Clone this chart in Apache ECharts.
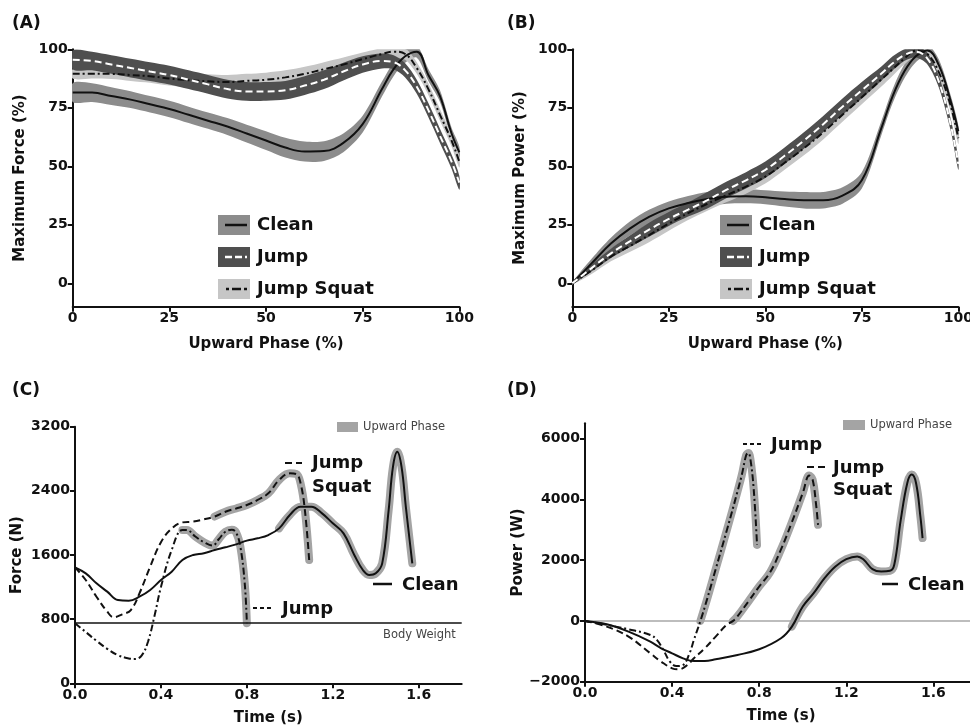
<!DOCTYPE html>
<html><head><meta charset="utf-8">
<script src="https://cdn.jsdelivr.net/npm/echarts@6/dist/echarts.min.js"></script>
<style>html,body{margin:0;padding:0;background:#fff}#c{width:970px;height:725px}</style>
</head><body><div id="c"></div>
<script>
// ---------- Panel A / B : normalised curves vs upward phase ----------
const phaseX = [0,5,10,15,20,25,30,35,40,45,50,55,60,65,70,75,80,83,86,89,92,95,98,100];
const phaseTicks = [0,25,50,75,100];
const pctTicks = [0,25,50,75,100];

const forceClean   = [81.5,81.5,80,78.5,76.5,74.5,72,69.5,67,64,61,58,56.3,56.5,60,68,83,91.5,97,99,89,80,64,56];
const forceCleanHW = [4,4,3.8,3.6,3.5,3.5,3.5,3.5,3.6,3.8,4,4.2,4.3,4.2,4,3.6,3.2,3,2.8,2.6,2.6,2.5,2.5,2.5];
const forceJump    = [95.5,95,93.5,92,90.5,89,87,85,83,82,82,82.5,84.5,87,90.5,93.5,95,94.5,91,84,74,63,52,43];
const forceJumpHW  = [4,4,4,4,4,4,4,4,4,4,4,4,4,4,3.8,3.5,3.2,3,3,3,3,3,3,3];
const forceSquat   = [89.5,89.5,89.5,89,88.5,87.5,86.8,86.3,86,86.5,87,88,89.5,91.5,93.5,95.8,98,99,98,92,83,72,61,52];
const forceSquatHW = [2,2,2.2,2.5,2.8,3,3,3,3,3,3,3,3,3,3,2.8,2.6,2.5,2.5,2.5,2.5,2.5,2.5,2.5];

const powerClean   = [0,8.5,17,23.5,28.5,32,34.3,36,37,37.2,36.8,36,35.5,35.5,37.5,44,66,80,90.5,97,99.5,93,78,65];
const powerCleanHW = [0.5,2,2.5,3,3,3,3,3,3,3,3,3.2,3.5,3.5,3.5,3.5,3,3,3,2.5,2.5,2.5,2.5,2.5];
const powerJump    = [0,6.5,12.8,18,23,27.5,31.5,35.5,40,44,48.5,54.5,61,68,75.5,82.5,89.5,94,97.5,99,96,86,68,51];
const powerJumpHW  = [0.5,1.5,2,2.5,3,3,3,3.5,3.5,3.5,3.5,3.5,3.5,3.5,3.5,3.5,3,3,2.5,2.5,2.5,2.5,2.5,2.5];
const powerSquat   = [0,5.5,11.4,16,20.7,25.5,30,34,37.7,41.3,45.6,51.5,57.7,64.5,72,79.5,87,91.5,96,99.4,98,90,76,62];
const powerSquatHW = [0.5,1.5,2,2.5,3,3,3,3,3,3,3,3,3,3,3,3,3,2.8,2.5,2.5,2.5,2.5,2.5,2.5];

// ---------- Panel C : force (N) vs time ----------
const timeTicks = [0,0.4,0.8,1.2,1.6];
const timeCleanC  = [0,0.05,0.1,0.15,0.2,0.25,0.3,0.35,0.4,0.45,0.5,0.55,0.6,0.65,0.7,0.75,0.8,0.85,0.9,0.95,1.0,1.05,1.1,1.15,1.2,1.25,1.3,1.34,1.37,1.4,1.43,1.46,1.48,1.5,1.52,1.54,1.57];
const forceCleanN = [1446,1371,1247,1143,1039,1031,1080,1164,1288,1392,1538,1600,1621,1662,1696,1733,1779,1808,1849,1932,2099,2203,2203,2119,1995,1870,1600,1413,1351,1371,1496,2161,2700,2888,2700,2200,1496];
const timeSquatC  = [0,0.05,0.1,0.15,0.18,0.22,0.26,0.3,0.35,0.4,0.45,0.5,0.55,0.6,0.65,0.7,0.75,0.8,0.85,0.9,0.95,1.0,1.03,1.05,1.07,1.09];
const forceSquatN = [1446,1288,1080,894,823,860,914,1122,1455,1760,1930,2007,2016,2044,2080,2140,2180,2223,2286,2369,2535,2618,2610,2494,2161,1538];
const timeJumpC   = [0,0.05,0.1,0.15,0.2,0.25,0.28,0.31,0.34,0.37,0.4,0.45,0.5,0.52,0.56,0.6,0.64,0.67,0.7,0.73,0.75,0.77,0.79,0.8];
const forceJumpN  = [748,640,530,430,350,310,303,345,520,840,1200,1662,1912,1912,1830,1760,1717,1800,1890,1915,1880,1700,1250,750];
const bodyWeight = 750;
const upStartC = {clean:0.95, squat:0.65, jump:0.5};

// ---------- Panel D : power (W) vs time ----------
const timeCleanD  = [0,0.1,0.2,0.3,0.35,0.4,0.45,0.5,0.55,0.6,0.7,0.8,0.9,0.95,1.0,1.05,1.1,1.15,1.2,1.25,1.28,1.32,1.36,1.4,1.42,1.45,1.48,1.5,1.52,1.54,1.55];
const powerCleanW = [0,-110,-352,-681,-901,-1066,-1231,-1319,-1319,-1264,-1121,-934,-571,-187,472,912,1407,1791,2033,2121,2011,1703,1626,1648,1846,3330,4538,4813,4538,3440,2725];
const timeSquatD  = [0,0.1,0.2,0.3,0.35,0.4,0.43,0.47,0.5,0.55,0.6,0.65,0.68,0.7,0.75,0.8,0.85,0.9,0.95,1.0,1.03,1.045,1.06,1.07];
const powerSquatW = [0,-187,-516,-1066,-1341,-1560,-1593,-1451,-1231,-901,-516,-132,0,150,637,1132,1600,2350,3250,4209,4780,4650,3900,3160];
const timeJumpD   = [0,0.1,0.2,0.3,0.33,0.36,0.39,0.42,0.45,0.48,0.5,0.53,0.56,0.6,0.65,0.7,0.72,0.74,0.75,0.76,0.775,0.79];
const powerJumpW  = [0,-132,-275,-462,-626,-956,-1341,-1484,-1451,-1066,-626,0,700,1700,2950,4250,4800,5450,5520,5300,4300,2500];
const upStartD = {clean:0.95, squat:0.68, jump:0.53};

// ---------- styling ----------
const FONT = '"DejaVu Sans", sans-serif';
const INK = '#111';
const C_CLEAN = '#8c8c8c', C_JUMP = '#4f4f4f', C_SQUAT = '#c6c6c6', C_UP = '#a4a4a4';
const DASH = [7,4], DASHDOT = [7,3,2,3];

function axis(gi, opt) {
  return Object.assign({
    gridIndex: gi, type: 'value',
    axisLine: {show: true, onZero: false, lineStyle: {color: INK, width: 2}},
    splitLine: {show: false},
    nameLocation: 'middle',
    nameTextStyle: {color: INK, fontFamily: FONT, fontWeight: 'bold', fontSize: 15}
  }, opt);
}
const plain = v => (v < 0 ? '\u2212' : '') + String(Math.abs(v));
function ticks(vals, fmt) {
  return {
    axisTick: {show: true, length: 5, lineStyle: {color: INK, width: 2}, customValues: vals},
    axisLabel: {color: INK, fontFamily: FONT, fontWeight: 'bold', fontSize: 14, margin: 5,
      customValues: vals, formatter: fmt || plain}
  };
}
function band(gi, xs, c, hw, color) {
  return {
    type: 'custom', xAxisIndex: gi, yAxisIndex: gi, silent: true, clip: true, z: 1,
    data: xs.map((x, i) => [x, c[i] - hw[i], c[i] + hw[i]]),
    encode: {x: 0, y: [1, 2]},
    renderItem(params, api) {
      if (params.dataIndex !== 0) return null;
      const up = xs.map((x, i) => api.coord([x, c[i] + hw[i]]));
      const lo = xs.map((x, i) => api.coord([x, c[i] - hw[i]])).reverse();
      return {type: 'polygon', shape: {points: up.concat(lo), smooth: 0.3}, style: {fill: color}};
    }
  };
}
function curve(gi, xs, ys, color, width, type, smooth) {
  return {
    type: 'line', xAxisIndex: gi, yAxisIndex: gi, symbol: 'none', silent: true, z: 3,
    smooth: smooth,
    data: xs.map((x, i) => [x, ys[i]]),
    lineStyle: {color: color, width: width, type: type}
  };
}
function upward(gi, xs, ys, start) {
  const d = [];
  xs.forEach((x, i) => { if (x >= start - 1e-9) d.push([x, ys[i]]); });
  return {
    type: 'line', xAxisIndex: gi, yAxisIndex: gi, symbol: 'none', silent: true, z: 2,
    smooth: 0.4, data: d,
    lineStyle: {color: C_UP, width: 8, cap: 'round', join: 'round'}
  };
}

const t1 = v => v.toFixed(1);

const option = {
  animation: false,
  backgroundColor: '#fff',
  grid: [
    {left: 72.7, right: 510.7, top: 49.3, bottom: 418.3, outerBoundsMode: 'none'},
    {left: 572.3, right: 11.7, top: 49.3, bottom: 418.3, outerBoundsMode: 'none'},
    {left: 75, right: 508.3, top: 426.7, bottom: 41.7, outerBoundsMode: 'none'},
    {left: 585, right: -7, top: 423.3, bottom: 43.3, outerBoundsMode: 'none'}
  ],
  xAxis: [
    axis(0, Object.assign({min: 0, max: 100, name: 'Upward Phase (%)', nameGap: 30}, ticks(phaseTicks))),
    axis(1, Object.assign({min: 0, max: 100, name: 'Upward Phase (%)', nameGap: 30}, ticks(phaseTicks))),
    axis(2, Object.assign({min: 0, max: 1.8, name: 'Time (s)', nameGap: 27}, ticks(timeTicks, t1))),
    axis(3, Object.assign({min: 0, max: 1.8, name: 'Time (s)', nameGap: 27}, ticks(timeTicks, t1)))
  ],
  yAxis: [
    axis(0, Object.assign({min: -10, max: 100, name: 'Maximum Force (%)', nameGap: 45}, ticks(pctTicks))),
    axis(1, Object.assign({min: -10, max: 100, name: 'Maximum Power (%)', nameGap: 45}, ticks(pctTicks))),
    axis(2, Object.assign({min: 0, max: 3200, interval: 800, name: 'Force (N)', nameGap: 50}, ticks([0,800,1600,2400,3200]))),
    axis(3, Object.assign({min: -2000, max: 6500, interval: 2000, name: 'Power (W)', nameGap: 52}, ticks([-2000,0,2000,4000,6000])))
  ],
  series: [
    // A
    band(0, phaseX, forceClean, forceCleanHW, C_CLEAN),
    band(0, phaseX, forceSquat, forceSquatHW, C_SQUAT),
    band(0, phaseX, forceJump, forceJumpHW, C_JUMP),
    curve(0, phaseX, forceClean, INK, 2, 'solid', 0.4),
    curve(0, phaseX, forceSquat, INK, 2, DASHDOT, 0.4),
    curve(0, phaseX, forceJump, '#fff', 2, DASH, 0.4),
    // B
    band(1, phaseX, powerClean, powerCleanHW, C_CLEAN),
    band(1, phaseX, powerSquat, powerSquatHW, C_SQUAT),
    band(1, phaseX, powerJump, powerJumpHW, C_JUMP),
    curve(1, phaseX, powerClean, INK, 2, 'solid', 0.4),
    curve(1, phaseX, powerSquat, INK, 2, DASHDOT, 0.4),
    curve(1, phaseX, powerJump, '#fff', 2, DASH, 0.4),
    // C
    Object.assign(upward(2, timeCleanC, forceCleanN, upStartC.clean), {
      markLine: {silent: true, symbol: 'none', label: {show: false},
        lineStyle: {color: INK, width: 1.5, type: 'solid'}, data: [{yAxis: bodyWeight}]}
    }),
    upward(2, timeSquatC, forceSquatN, upStartC.squat),
    upward(2, timeJumpC, forceJumpN, upStartC.jump),
    curve(2, timeCleanC, forceCleanN, INK, 2, 'solid', 0.4),
    curve(2, timeSquatC, forceSquatN, INK, 2, DASH, 0.4),
    curve(2, timeJumpC, forceJumpN, INK, 2, DASHDOT, 0.4),
    // D
    Object.assign(upward(3, timeCleanD, powerCleanW, upStartD.clean), {
      markLine: {silent: true, symbol: 'none', label: {show: false}, z: 1,
        lineStyle: {color: '#bdbdbd', width: 2, type: 'solid'}, data: [{yAxis: 0}]}
    }),
    upward(3, timeSquatD, powerSquatW, upStartD.squat),
    upward(3, timeJumpD, powerJumpW, upStartD.jump),
    curve(3, timeCleanD, powerCleanW, INK, 2, 'solid', 0.4),
    curve(3, timeSquatD, powerSquatW, INK, 2, DASH, 0.4),
    curve(3, timeJumpD, powerJumpW, INK, 2, DASHDOT, 0.4)
  ],
  graphic: []
};

// ---------- text / legend graphics ----------
const G = option.graphic;
function txt(s, x, y, size, weight, fill) {
  G.push({type: 'text', silent: true, z: 10, style: {text: s, x: x, y: y, fill: fill || INK,
    font: (weight || 'bold') + ' ' + size + 'px ' + FONT, verticalAlign: 'middle'}});
}
function seg(x1, y1, x2, y2, color, w, dash) {
  G.push({type: 'line', silent: true, z: 10, shape: {x1: x1, y1: y1, x2: x2, y2: y2},
    style: {stroke: color, lineWidth: w, lineDash: dash || null}});
}
function box(x, y, w, h, fill) {
  G.push({type: 'rect', silent: true, z: 9, shape: {x: x, y: y, width: w, height: h}, style: {fill: fill}});
}
// panel letters
txt('(A)', 12, 24, 17); txt('(B)', 507, 24, 17); txt('(C)', 12, 391, 17); txt('(D)', 507, 391, 17);
// legends A and B
[0, 502].forEach(dx => {
  box(218 + dx, 215, 32, 20, C_CLEAN); seg(225 + dx, 225, 247 + dx, 225, INK, 2.5);
  txt('Clean', 257 + dx, 225, 18);
  box(218 + dx, 247, 32, 20, C_JUMP); seg(225 + dx, 257, 247 + dx, 257, '#fff', 2.5, [7, 3]);
  txt('Jump', 257 + dx, 257, 18);
  box(218 + dx, 279, 32, 20, C_SQUAT); seg(226 + dx, 289, 247 + dx, 289, INK, 2.5, [3, 3, 9, 3]);
  txt('Jump Squat', 257 + dx, 289, 18);
});
// panel C annotations
box(337, 422, 21, 10, C_UP); txt('Upward Phase', 363, 427.5, 11.5, 'normal', '#444');
seg(285, 463, 302, 463, INK, 2, [7, 4]); txt('Jump', 312, 463, 18); txt('Squat', 312, 487, 18);
seg(373, 584, 392, 584, INK, 2.5); txt('Clean', 402, 585, 18);
seg(253, 608, 274, 608, INK, 2, [4, 3]); txt('Jump', 282, 609, 18);
txt('Body Weight', 383, 635, 11.5, 'normal', '#444');
// panel D annotations
box(843, 420, 22, 10, C_UP); txt('Upward Phase', 870, 425.5, 11.5, 'normal', '#444');
seg(743, 444, 763, 444, INK, 2, [4, 3]); txt('Jump', 771, 445, 18);
seg(807, 467, 825, 467, INK, 2, [7, 4]); txt('Jump', 833, 468, 18); txt('Squat', 833, 490, 18);
seg(882, 584, 898, 584, INK, 2.5); txt('Clean', 908, 585, 18);

const chart = echarts.init(document.getElementById('c'));
chart.setOption(option);
</script>
</body></html>
